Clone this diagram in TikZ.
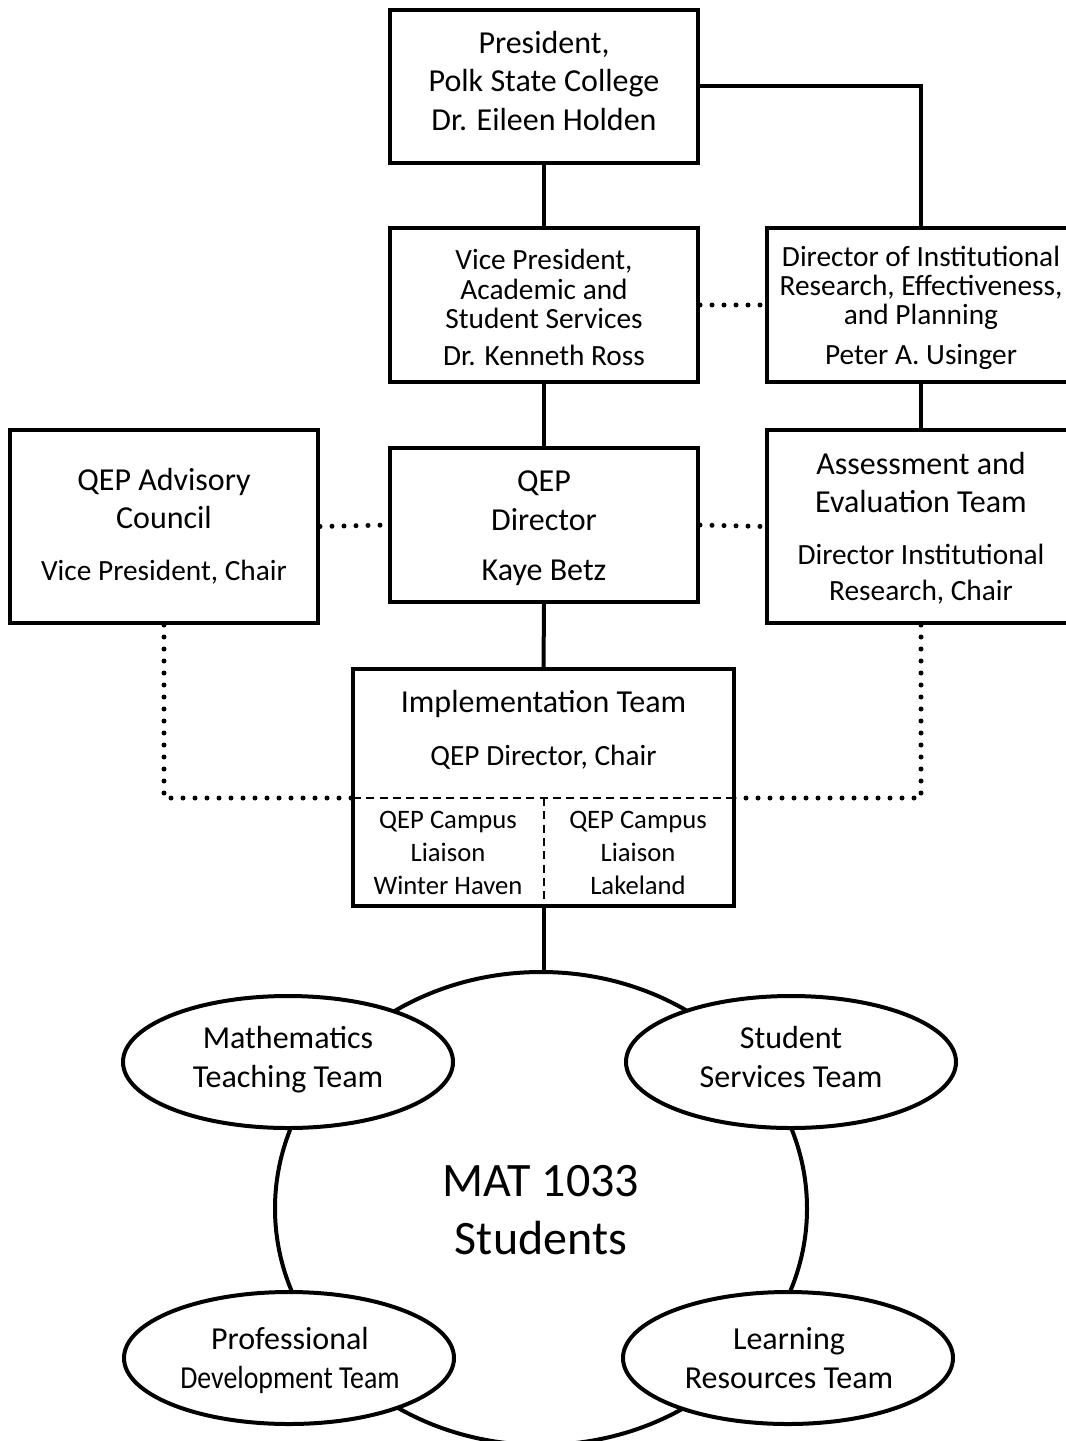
\documentclass[tikz,border=0pt]{standalone}
\usepackage{fontspec}
\setmainfont{Carlito}
\usetikzlibrary{shapes.geometric}
\begin{document}
\begin{tikzpicture}[x=0.75pt,y=-0.75pt,
  box/.style={draw, line width=3pt, fill=white, minimum width=308*0.75pt, inner sep=0pt},
  conn/.style={line width=3pt},
  dotline/.style={line width=3.75pt, line cap=round, dash pattern=on 0pt off 9pt},
  dashline/.style={line width=1.5pt, dash pattern=on 6pt off 4pt},
  teamell/.style={ellipse, draw, line width=3pt, fill=white, minimum width=330*0.75pt, minimum height=132*0.75pt, inner sep=0pt},
  bigell/.style={ellipse, draw, line width=3pt, fill=white, minimum width=532*0.75pt, minimum height=473*0.75pt, inner sep=0pt},
  ta/.style={font=\fontsize{24}{29}\selectfont, anchor=base, inner sep=0pt},
  tb/.style={font=\fontsize{22}{26}\selectfont, anchor=base, inner sep=0pt},
  tc/.style={font=\fontsize{20}{24}\selectfont, anchor=base, inner sep=0pt},
  td/.style={font=\fontsize{36}{43}\selectfont, anchor=base, inner sep=0pt}]
\clip (0,0) rectangle (1066,1441);
\useasboundingbox (0,0) rectangle (1066,1441);

% boxes
\node[box, minimum height=153*0.75pt] (pres) at (544,86.5) {};
\node[box, minimum height=154*0.75pt] (vp) at (544,305) {};
\node[box, minimum height=154*0.75pt] (dir) at (921,305) {};
\node[box, minimum height=193*0.75pt] (adv) at (164,526.5) {};
\node[box, minimum height=154*0.75pt] (qd) at (544,525) {};
\node[box, minimum height=193*0.75pt] (ass) at (921,526.5) {};
\node[box, minimum width=381*0.75pt, minimum height=237*0.75pt] (impl) at (543.5,787.5) {};

% dashed split inside implementation team
\coordinate (djl) at (353,798);
\coordinate (djr) at (734,798);
\coordinate (djm) at (543.5,798);

% ellipses
\node[bigell] (big) at (541,1208.5) {};
\node[teamell] (math) at (288,1062) {};
\node[teamell] (ss) at (791,1062) {};
\node[teamell] (pd) at (289,1358) {};
\node[teamell] (lr) at (788,1358) {};

% connectors
\draw[conn] (pres.south) -- (vp.north);
\draw[conn] (pres.east) -| (dir.north);
\draw[conn] (vp.south) -- (qd.north);
\draw[conn] (dir.south) -- (ass.north);
\draw[conn] (qd.south) -- (impl.north);
\draw[conn] (impl.south) -- (impl.south |- big.north);
\draw[dotline] (vp.east) -- (dir.west);
\draw[dotline] (adv.east) -- (qd.west);
\draw[dotline] (qd.east) -- (ass.west);
\draw[dotline] (adv.south) |- (djl);
\draw[dotline] (ass.south) |- (djr);
\draw[dashline] (djl) -- (djr);
\draw[dashline] (djm) -- (impl.south);

% texts
\node[ta] (pres1) at (544,54) {President,};
\node[ta] (pres2) at (544,92) {Polk State College};
\node[ta] (pres3) at (544,131) {Dr. Eileen Holden};

\node[tb] (vp1) at (544,269) {Vice President,};
\node[tb] (vp2) at (544,299) {Academic and};
\node[tb] (vp3) at (544,328) {Student Services};
\node[tb] (vp4) at (544,365) {Dr. Kenneth Ross};

\node[tb] (dir1) at (921,266) {Director of Institutional};
\node[tb] (dir2) at (921,295) {Research, Effectiveness,};
\node[tb] (dir3) at (921,324) {and Planning};
\node[tb] (dir4) at (921,364) {Peter A. Usinger};

\node[ta] (adv1) at (164,490) {QEP Advisory};
\node[ta] (adv2) at (164,528) {Council};
\node[tb] (adv3) at (164,580) {Vice President, Chair};

\node[ta] (qd1) at (544,491) {QEP};
\node[ta] (qd2) at (544,530) {Director};
\node[ta] (qd3) at (544,580) {Kaye Betz};

\node[ta] (ass1) at (921,474) {Assessment and};
\node[ta] (ass2) at (921,512) {Evaluation Team};
\node[tb] (ass3) at (921,564) {Director Institutional};
\node[tb] (ass4) at (921,600) {Research, Chair};

\node[ta] (impl1) at (543.5,712) {Implementation Team};
\node[tb] (impl2) at (543.5,765) {QEP Director, Chair};
\node[tc] (wh1) at (448,828) {QEP Campus};
\node[tc] (wh2) at (448,861) {Liaison};
\node[tc] (wh3) at (448,894) {Winter Haven};
\node[tc] (lk1) at (638,828) {QEP Campus};
\node[tc] (lk2) at (638,861) {Liaison};
\node[tc] (lk3) at (638,894) {Lakeland};

\node[ta] (math1) at (288,1048) {Mathematics};
\node[ta] (math2) at (288,1087) {Teaching Team};
\node[ta] (ss1) at (791,1048) {Student};
\node[ta] (ss2) at (791,1087) {Services Team};
\node[ta] (pd1) at (290,1349) {Professional};
\node[ta] (pd2) at (290,1388) {\scalebox{0.87}[1]{Development Team}};
\node[ta] (lr1) at (789,1349) {Learning};
\node[ta] (lr2) at (789,1388) {Resources Team};

\node[td] (big1) at (541,1196) {MAT 1033};
\node[td] (big2) at (541,1254) {Students};
\end{tikzpicture}
\end{document}
